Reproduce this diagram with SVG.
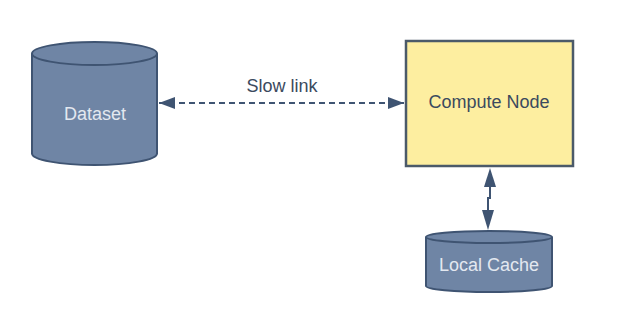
<svg xmlns="http://www.w3.org/2000/svg" width="624" height="334" viewBox="0 0 624 334">
<style>
.cyl{fill:#6f85a5;stroke:#3f5472;stroke-width:2}
.lbl{font-family:"Liberation Sans",Arial,sans-serif;font-size:18px;text-anchor:middle}
.light{fill:#e3e8f0}
.dark{fill:#3b4a5e}
.conn{stroke:#3f5472;stroke-width:2;fill:none}
</style>
<defs>
<marker id="ah" viewBox="0 0 16 12" refX="16" refY="6" markerWidth="16" markerHeight="12" markerUnits="userSpaceOnUse" orient="auto-start-reverse">
<path d="M0,0 L16,6 L0,12 Z" fill="#3f5472"/>
</marker>
</defs>
<rect width="624" height="334" fill="#ffffff"/>
<g id="connectors">
<line class="conn" x1="159" y1="103" x2="404" y2="103" stroke-dasharray="6,4" marker-start="url(#ah)" marker-end="url(#ah)"/>
<text class="lbl dark" x="282" y="92">Slow link</text>
<path class="conn" d="M490,185 L490,198 L488,198 L488,212"/>
<path d="M490,168 L496,187 L484,187 Z" fill="#3f5472"/>
<path d="M488,230 L494,210 L482,210 Z" fill="#3f5472"/>
</g>
<g id="dataset">
<path class="cyl" d="M32,53.5 L32,153.5 A62.5,11.5 0 0 0 157,153.5 L157,53.5"/>
<ellipse class="cyl" cx="94.5" cy="53.5" rx="62.5" ry="11.5"/>
<text class="lbl light" x="95" y="120">Dataset</text>
</g>
<g id="compute">
<rect x="406" y="41" width="167" height="125" fill="#fdeea0" stroke="#4b5a69" stroke-width="2.5"/>
<text class="lbl dark" x="489" y="108">Compute Node</text>
</g>
<g id="cache">
<path class="cyl" d="M426,237 L426,286 A63,6 0 0 0 552,286 L552,237"/>
<ellipse class="cyl" cx="489" cy="237" rx="63" ry="6"/>
<text class="lbl light" x="489" y="271">Local Cache</text>
</g>
</svg>
